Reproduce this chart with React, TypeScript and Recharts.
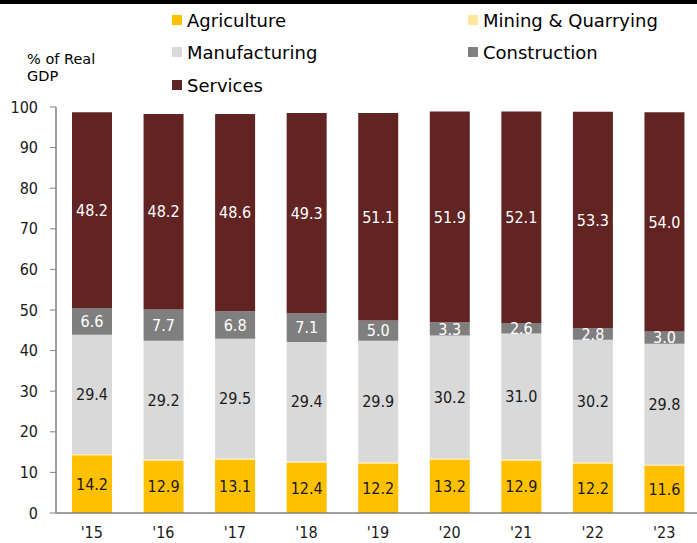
import React from "react";
import { BarChart, Bar, XAxis, YAxis, LabelList } from "recharts";

const years = ["'15", "'16", "'17", "'18", "'19", "'20", "'21", "'22", "'23"];
const agriculture = [14.2, 12.9, 13.1, 12.4, 12.2, 13.2, 12.9, 12.2, 11.6];
const mining = [0.3, 0.3, 0.3, 0.3, 0.3, 0.3, 0.3, 0.3, 0.3];
const manufacturing = [29.4, 29.2, 29.5, 29.4, 29.9, 30.2, 31.0, 30.2, 29.8];
const construction = [6.6, 7.7, 6.8, 7.1, 5.0, 3.3, 2.6, 2.8, 3.0];
const services = [48.2, 48.2, 48.6, 49.3, 51.1, 51.9, 52.1, 53.3, 54.0];
const yTicks = [0, 10, 20, 30, 40, 50, 60, 70, 80, 90, 100];

const FONT = "'DejaVu Sans Condensed', 'DejaVu Sans', sans-serif";
const FONT_REG = "'DejaVu Sans', sans-serif";

const COLORS = {
  agriculture: "#FFC000",
  mining: "#FFE699",
  manufacturing: "#D9D9D9",
  construction: "#7F7F7F",
  services: "#622423",
};

const data = years.map((y, i) => ({
  year: y,
  agriculture: agriculture[i],
  mining: mining[i],
  manufacturing: manufacturing[i],
  construction: construction[i],
  services: services[i],
}));

const legendItems = [
  { name: "Agriculture", color: COLORS.agriculture, x: 172, y: 20 },
  { name: "Mining & Quarrying", color: COLORS.mining, x: 468, y: 20 },
  { name: "Manufacturing", color: COLORS.manufacturing, x: 172, y: 52 },
  { name: "Construction", color: COLORS.construction, x: 468, y: 52 },
  { name: "Services", color: COLORS.services, x: 172, y: 85 },
];

const fmt = (v: any) => Number(v).toFixed(1);

export default function App() {
  return (
    <div
      style={{
        position: "absolute",
        left: 0,
        top: 0,
        width: 697,
        height: 543,
        overflow: "hidden",
        background: "#fff",
        fontFamily: FONT_REG,
      }}
    >
      <div style={{ position: "absolute", left: 0, top: 0, width: 697, height: 4, background: "#000" }} />
      {legendItems.map((it) => (
        <div
          key={it.name}
          style={{
            position: "absolute",
            left: it.x,
            top: it.y - 12,
            height: 24,
            display: "flex",
            alignItems: "center",
            fontSize: 18,
            color: "#000",
            whiteSpace: "nowrap",
          }}
        >
          <span style={{ display: "inline-block", width: 10, height: 10, background: it.color, marginRight: 5 }} />
          <span>{it.name}</span>
        </div>
      ))}
      <div
        style={{
          position: "absolute",
          left: 27,
          top: 51,
          fontSize: 14.5,
          lineHeight: "17px",
          color: "#000",
        }}
      >
        % of Real
        <br />
        GDP
      </div>
      <div style={{ position: "absolute", left: 0, top: 0 }}>
        <BarChart
          width={705}
          height={543}
          data={data}
          margin={{ top: 107, right: 5, left: 0, bottom: 0 }}
          barSize={40}
        >
          <XAxis
            dataKey="year"
            height={30}
            axisLine={{ stroke: "#808080", strokeWidth: 1.5 }}
            tickLine={false}
            tickMargin={8}
            tick={{ fill: "#1a1a1a", fontSize: 16, fontFamily: FONT }}
          />
          <YAxis
            width={56}
            domain={[0, 100]}
            ticks={yTicks}
            interval={0}
            axisLine={{ stroke: "#808080", strokeWidth: 1.5 }}
            tickLine={{ stroke: "#808080" }}
            tickSize={6}
            tickMargin={12}
            tick={{ fill: "#1a1a1a", fontSize: 16, fontFamily: FONT }}
          />
          <Bar dataKey="agriculture" stackId="a" fill={COLORS.agriculture} barSize={40} isAnimationActive={false}>
            <LabelList dataKey="agriculture" position="center" formatter={fmt} fill="#1a1a1a" fontSize={16} fontFamily={FONT} />
          </Bar>
          <Bar dataKey="mining" stackId="a" fill={COLORS.mining} barSize={40} isAnimationActive={false} />
          <Bar dataKey="manufacturing" stackId="a" fill={COLORS.manufacturing} barSize={40} isAnimationActive={false}>
            <LabelList dataKey="manufacturing" position="center" formatter={fmt} fill="#1a1a1a" fontSize={16} fontFamily={FONT} />
          </Bar>
          <Bar dataKey="construction" stackId="a" fill={COLORS.construction} barSize={40} isAnimationActive={false}>
            <LabelList dataKey="construction" position="center" formatter={fmt} fill="#ffffff" fontSize={16} fontFamily={FONT} />
          </Bar>
          <Bar dataKey="services" stackId="a" fill={COLORS.services} barSize={40} isAnimationActive={false}>
            <LabelList dataKey="services" position="center" formatter={fmt} fill="#ffffff" fontSize={16} fontFamily={FONT} />
          </Bar>
        </BarChart>
      </div>
    </div>
  );
}
